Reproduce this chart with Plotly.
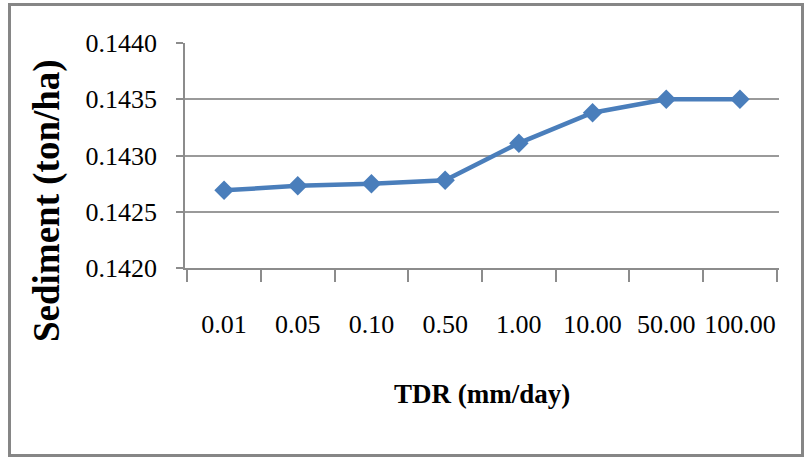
import plotly.graph_objects as go

# TDR classes (mm/day) and simulated sediment yield (ton/ha)
tdr_labels = ["0.01", "0.05", "0.10", "0.50", "1.00", "10.00", "50.00", "100.00"]
sediment = [0.14269, 0.14273, 0.14275, 0.14278, 0.14311, 0.14338, 0.14350, 0.14350]
y_ticks = [0.1420, 0.1425, 0.1430, 0.1435, 0.1440]

W, H = 807, 458
ML, MR, MT, MB = 185, 28, 43, 190
pw, ph = W - ML - MR, H - MT - MB


def px_x(x):
    return (x - ML) / pw


def px_y(y):
    return (H - MB - y) / ph


grey = "#8c8c8c"
serif = "Liberation Serif"

fig = go.Figure(
    go.Scatter(
        x=tdr_labels,
        y=sediment,
        mode="lines+markers",
        line=dict(color="#4a7ebb", width=4.5),
        marker=dict(symbol="diamond", size=15, color="#4a7ebb"),
        showlegend=False,
    )
)

fig.update_layout(
    width=W,
    height=H,
    margin=dict(l=ML, r=MR, t=MT, b=MB, autoexpand=False),
    paper_bgcolor="white",
    plot_bgcolor="white",
    font=dict(family=serif, color="black"),
)

fig.update_xaxes(
    type="category",
    automargin=False,
    tickangle=0,
    tickson="boundaries",
    ticks="outside",
    ticklen=12,
    tickwidth=1.5,
    tickcolor=grey,
    showline=True,
    linecolor=grey,
    linewidth=1.5,
    showgrid=False,
    tickfont=dict(family=serif, size=26, color="black"),
    ticklabelstandoff=32,
)

fig.update_yaxes(
    automargin=False,
    range=[y_ticks[0], y_ticks[-1]],
    tickvals=y_ticks,
    tickformat=".4f",
    ticks="outside",
    ticklen=7,
    tickwidth=1.5,
    tickcolor=grey,
    showline=True,
    linecolor=grey,
    linewidth=1.5,
    showgrid=True,
    gridcolor="#9a9a9a",
    gridwidth=1.5,
    zeroline=False,
    tickfont=dict(family=serif, size=26, color="black"),
    ticklabelstandoff=14,
)

fig.add_annotation(
    text="<b>TDR (mm/day)</b>",
    xref="paper", yref="paper",
    x=px_x(482), y=px_y(394),
    xanchor="center", yanchor="middle",
    showarrow=False,
    font=dict(family=serif, size=27, color="black"),
)
fig.add_annotation(
    text="<b>Sediment (ton/ha)</b>",
    xref="paper", yref="paper",
    x=px_x(47), y=px_y(201),
    xanchor="center", yanchor="middle",
    textangle=-90,
    showarrow=False,
    font=dict(family=serif, size=37, color="black"),
)

# outer chart border, placed in pixels from the plot's bottom-left corner
fig.add_shape(
    type="rect",
    xref="paper", yref="paper",
    xsizemode="pixel", ysizemode="pixel",
    xanchor=0, yanchor=0,
    x0=9.5 - ML, x1=802.5 - ML,
    y0=(H - MB) - 455.5, y1=(H - MB) - 4.5,
    line=dict(color="#868686", width=3),
    fillcolor="rgba(0,0,0,0)",
    layer="below",
)

fig.write_html("out.html")
